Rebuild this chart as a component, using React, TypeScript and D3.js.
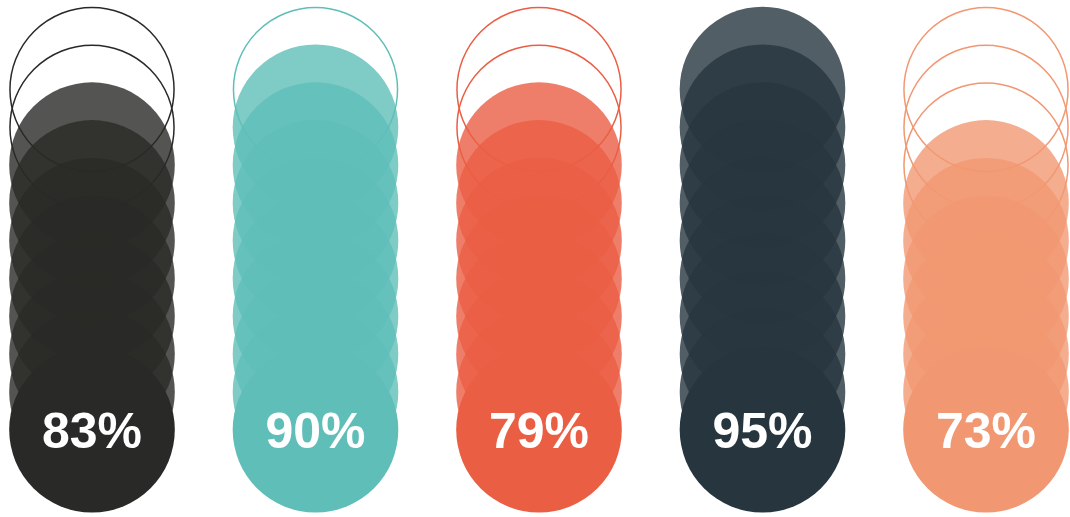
import React from "react";
import * as d3 from "d3";

const categories = ["A", "B", "C", "D", "E"];
const values = [83, 90, 79, 95, 73];
const colors = ["#292927", "#5fbeb8", "#ea5e44", "#27363e", "#f19872"];
const labels = ["83%", "90%", "79%", "95%", "73%"];
const slots = d3.range(10);

const W = 1070;
const H = 517;
const R = 82.8;

export default function App() {
  const x = d3.scalePoint<string>().domain(categories).range([92, 986]);
  const y = d3.scaleLinear().domain([0, 9]).range([89.5, 429.7]);

  return (
    <svg
      width={W}
      height={H}
      style={{ position: "absolute", left: 0, top: 0 }}
    >
      {categories.map((c, i) => {
        const filled = Math.round(values[i] / 10);
        const empty = 10 - filled;
        const cx = x(c)!;
        return (
          <g key={c}>
            {slots.map((s) =>
              s < empty ? (
                <circle
                  key={s}
                  cx={cx}
                  cy={y(s)}
                  r={R - 0.75}
                  fill="none"
                  stroke={colors[i]}
                  strokeWidth={1.5}
                />
              ) : (
                <circle
                  key={s}
                  cx={cx}
                  cy={y(s)}
                  r={R}
                  fill={colors[i]}
                  fillOpacity={s === 9 ? 1 : 0.8}
                />
              )
            )}
            <text
              x={cx}
              y={y(9) + 18.3}
              textAnchor="middle"
              fill="#fff"
              fontFamily="'Liberation Sans', Arial, sans-serif"
              fontWeight="bold"
              fontSize={50}
            >
              {labels[i]}
            </text>
          </g>
        );
      })}
    </svg>
  );
}
